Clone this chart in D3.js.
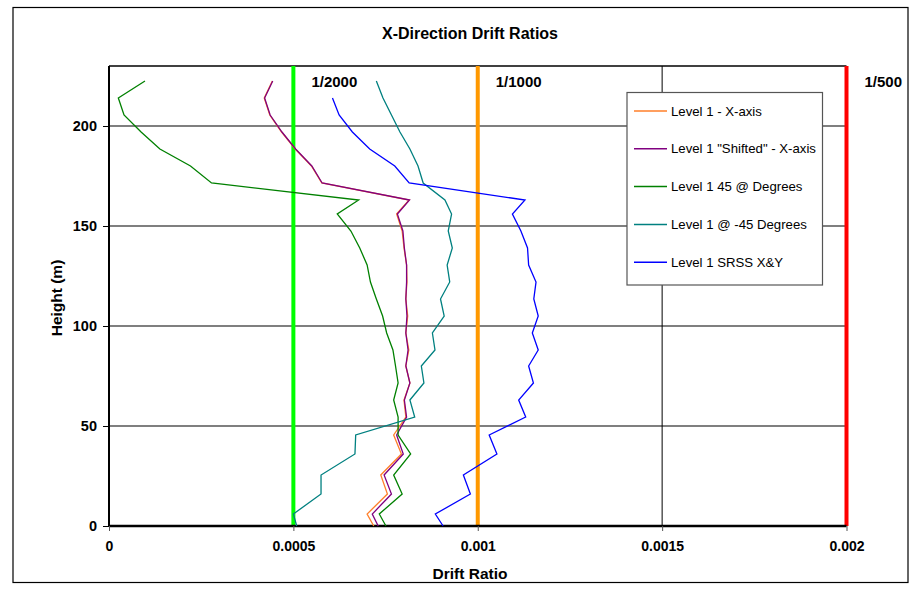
<!DOCTYPE html>
<html>
<head>
<meta charset="utf-8">
<script src="https://cdn.jsdelivr.net/npm/d3@7"></script>
<style>
  html, body { margin: 0; padding: 0; background: #fff; }
  svg { display: block; font-family: Arial, "Liberation Sans", sans-serif; }
</style>
</head>
<body>
<svg id="chart" width="913" height="589"></svg>
<script>
// Storey heights (m)
const heights = [0, 6, 16, 25.5, 36, 45.5, 54.5, 63, 71.5, 80, 88, 96.5, 105, 113.5,
  122, 130.5, 139, 147.5, 156, 163, 171.5, 180, 188.5, 197, 205.5, 214, 222.5];

// Drift ratios per storey for each load case
const level1X = [0.000718, 0.0007, 0.000755, 0.000737, 0.000793, 0.000772, 0.000805, 0.0008,
  0.000816, 0.000805, 0.000813, 0.000805, 0.00081, 0.000805, 0.000808, 0.000807, 0.0008,
  0.000795, 0.00078, 0.000814, 0.000577, 0.000549, 0.000505, 0.000468, 0.000436, 0.000421, 0.000443];
const level1Shifted = [0.00073, 0.000714, 0.000766, 0.000746, 0.000798, 0.00078, 0.000807, 0.000801,
  0.000816, 0.000805, 0.000811, 0.000805, 0.000808, 0.000805, 0.000807, 0.000807, 0.000801,
  0.000797, 0.000782, 0.000815, 0.000578, 0.00055, 0.000506, 0.000469, 0.000437, 0.000422, 0.000444];
const level1Pos45 = [0.000751, 0.000733, 0.000795, 0.000772, 0.000818, 0.000784, 0.000784, 0.000772,
  0.000784, 0.000777, 0.00077, 0.000753, 0.000742, 0.000725, 0.000709, 0.0007, 0.00068,
  0.000656, 0.000619, 0.000677, 0.000278, 0.000221, 0.000138, 0.000087, 0.0000407, 0.0000253, 0.0000976];
const level1Neg45 = [0.000509, 0.0005, 0.000575, 0.000575, 0.000667, 0.000669, 0.000829, 0.000816,
  0.000854, 0.000847, 0.000884, 0.000877, 0.000909, 0.000899, 0.000924, 0.000917, 0.000931,
  0.00092, 0.000929, 0.000911, 0.000852, 0.000838, 0.000816, 0.000789, 0.000766, 0.000743, 0.000725];
const level1SRSS = [0.000906, 0.000885, 0.00098, 0.000961, 0.001052, 0.001031, 0.00113, 0.001111,
  0.001151, 0.001138, 0.001164, 0.001148, 0.001164, 0.001152, 0.001158, 0.001138, 0.001135,
  0.001117, 0.001094, 0.001128, 0.000814, 0.000775, 0.000707, 0.00066, 0.000624, 0.000606, null];

const seriesNames = ["Level 1 - X-axis", "Level 1 \"Shifted\" - X-axis", "Level 1 45 @ Degrees",
  "Level 1 @ -45 Degrees", "Level 1 SRSS X&Y"];
const seriesValues = [level1X, level1Shifted, level1Pos45, level1Neg45, level1SRSS];
const seriesColors = ["#FF7F2A", "#800080", "#008000", "#008080", "#0000FF"];

// Code drift limits
const limitValues = [0.0005, 0.001, 0.002];
const limitLabels = ["1/2000", "1/1000", "1/500"];
const limitColors = ["#00FF00", "#FF9900", "#FF0000"];

const xTicks = [0, 0.0005, 0.001, 0.0015, 0.002];
const yTicks = [0, 50, 100, 150, 200];

const svg = d3.select("#chart");
const plot = { left: 109, right: 846.5, top: 66, bottom: 526 };

const x = d3.scaleLinear().domain([0, 0.002]).range([plot.left, plot.right]);
const y = d3.scaleLinear().domain([0, 230]).range([plot.bottom, plot.top]);

// Outer frame
svg.append("rect").attr("x", 13).attr("y", 7.5).attr("width", 895).attr("height", 575)
  .attr("fill", "#fff").attr("stroke", "#000").attr("stroke-width", 1.2);

// Title
svg.append("text").attr("x", 470).attr("y", 38.5).attr("text-anchor", "middle")
  .attr("font-size", 16).attr("font-weight", "bold").text("X-Direction Drift Ratios");

// Horizontal gridlines
svg.append("g").selectAll("line").data(yTicks.filter(d => d > 0)).join("line")
  .attr("x1", plot.left).attr("x2", plot.right)
  .attr("y1", d => y(d)).attr("y2", d => y(d))
  .attr("stroke", "#7f7f7f").attr("stroke-width", 2);

// Vertical gridlines
svg.append("g").selectAll("line").data(xTicks.filter(d => d > 0)).join("line")
  .attr("x1", d => x(d)).attr("x2", d => x(d))
  .attr("y1", plot.top).attr("y2", plot.bottom)
  .attr("stroke", "#000").attr("stroke-width", 1);

// Plot top border
svg.append("line").attr("x1", plot.left).attr("x2", plot.right)
  .attr("y1", plot.top).attr("y2", plot.top).attr("stroke", "#000").attr("stroke-width", 1.5);

// Drift limit lines
limitValues.forEach((v, i) => {
  svg.append("line").attr("x1", x(v)).attr("x2", x(v))
    .attr("y1", plot.top).attr("y2", plot.bottom)
    .attr("stroke", limitColors[i]).attr("stroke-width", 4);
  svg.append("text").attr("x", x(v) + 18).attr("y", 86.5)
    .attr("font-size", 15).attr("font-weight", "bold").text(limitLabels[i]);
});

// Y axis
const yAxis = d3.axisLeft(y).tickValues(yTicks).tickSize(6).tickPadding(6).tickFormat(d3.format("d"));
const gy = svg.append("g").attr("transform", `translate(${plot.left},0)`).call(yAxis);
gy.select(".domain").attr("stroke", "#000").attr("stroke-width", 2).attr("d", `M0,${plot.top}V${plot.bottom}`);
gy.selectAll(".tick line").attr("stroke", "#000");
gy.selectAll(".tick text").attr("font-size", 14.5).attr("font-weight", "bold")
  .attr("font-family", "Arial, 'Liberation Sans', sans-serif").attr("fill", "#000");

// X axis
const xAxis = d3.axisBottom(x).tickValues(xTicks).tickSize(5).tickPadding(10).tickFormat(d => String(d));
const gx = svg.append("g").attr("transform", `translate(0,${plot.bottom})`).call(xAxis);
gx.select(".domain").attr("stroke", "#000").attr("stroke-width", 2.5).attr("d", `M${plot.left},0H${plot.right}`);
gx.selectAll(".tick line").attr("stroke", "#555");
gx.selectAll(".tick text").attr("font-size", 14).attr("font-weight", "bold")
  .attr("font-family", "Arial, 'Liberation Sans', sans-serif").attr("fill", "#000");

// Axis titles
svg.append("text").attr("x", 470).attr("y", 579).attr("text-anchor", "middle")
  .attr("font-size", 15.5).attr("font-weight", "bold").text("Drift Ratio");
svg.append("text").attr("transform", `translate(62,298) rotate(-90)`).attr("text-anchor", "middle")
  .attr("font-size", 15.5).attr("font-weight", "bold").text("Height (m)");

// Series lines
const line = d3.line()
  .defined(d => d.v !== null)
  .x(d => x(d.v)).y(d => y(d.h));
seriesValues.forEach((vals, i) => {
  const pts = heights.map((h, j) => ({ h, v: vals[j] }));
  svg.append("path").datum(pts).attr("d", line)
    .attr("fill", "none").attr("stroke", seriesColors[i]).attr("stroke-width", 1.3)
    .attr("stroke-linejoin", "miter");
});

// Legend
const lg = svg.append("g").attr("transform", "translate(627,92.5)");
lg.append("rect").attr("width", 195.5).attr("height", 192.5)
  .attr("fill", "#fff").attr("stroke", "#555").attr("stroke-width", 1.2);
seriesNames.forEach((name, i) => {
  const yy = 18.5 + i * 37.8;
  lg.append("line").attr("x1", 7).attr("x2", 40).attr("y1", yy).attr("y2", yy)
    .attr("stroke", seriesColors[i]).attr("stroke-width", 1.5);
  lg.append("text").attr("x", 44).attr("y", yy + 4.5).attr("font-size", 13.2).text(name);
});
</script>
</body>
</html>
